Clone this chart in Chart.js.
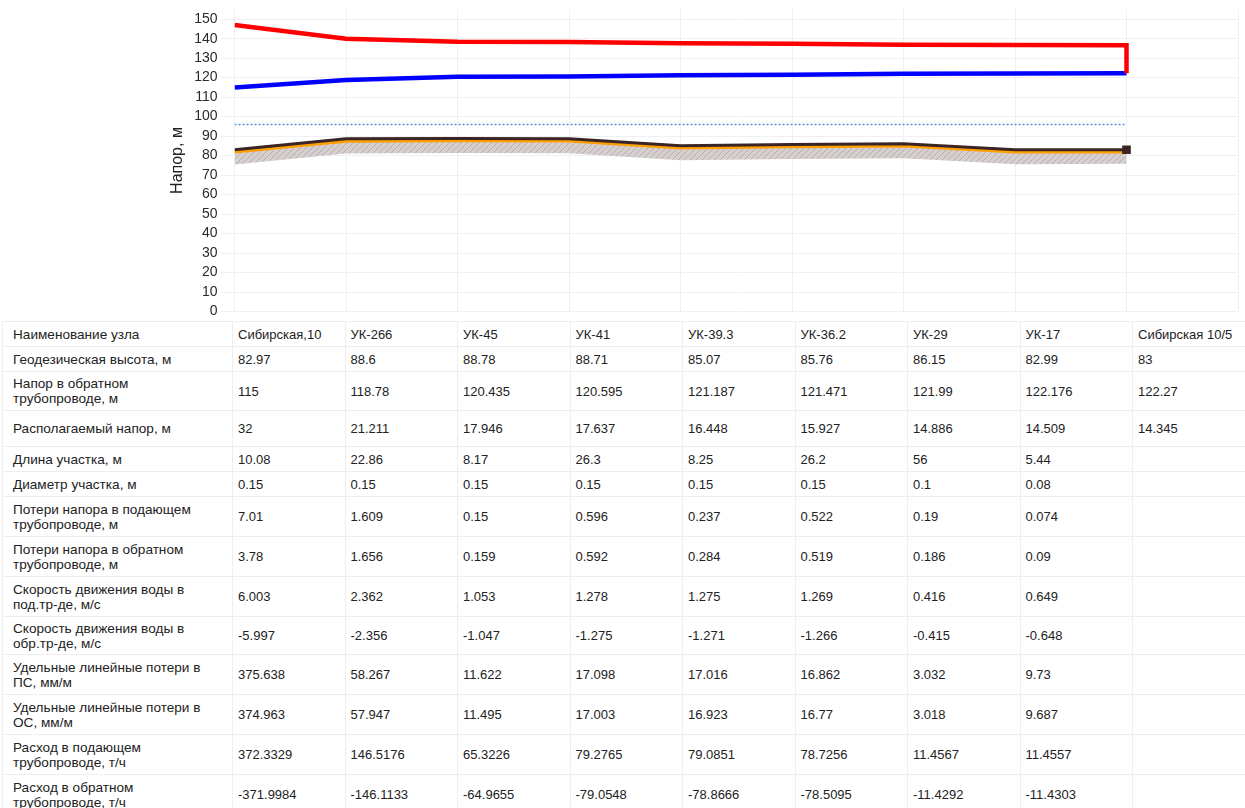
<!DOCTYPE html>
<html>
<head>
<meta charset="utf-8">
<script src="https://cdn.jsdelivr.net/npm/chart.js@4"></script>
<style>
  body { margin: 0; background: #fff; font-family: Arial, "Liberation Sans", sans-serif; overflow: hidden; }
  #chart-wrap { position: relative; width: 1245px; height: 325px; margin-top: -2px; }
  table { border-collapse: collapse; table-layout: fixed; width: 1243px; margin: -2px 0 0 2px; font-size: 13px; color: #222; position: relative; background: #fff; }
  td { border: 1px solid #eeeeee; padding: 0 5px; vertical-align: middle; white-space: nowrap; line-height: 15px; }
  td.lbl { padding-left: 10px; font-size: 13.6px; }
</style>
</head>
<body>
<div id="chart-wrap"><canvas id="piezo-graph"></canvas></div>
<table id="piezo-table"></table>

<script>
const nodes = ['Сибирская,10', 'УК-266', 'УК-45', 'УК-41', 'УК-39.3', 'УК-36.2', 'УК-29', 'УК-17', 'Сибирская 10/5'];
const geoHeight = [82.97, 88.6, 88.78, 88.71, 85.07, 85.76, 86.15, 82.99, 83];
const returnHead = [115, 118.78, 120.435, 120.595, 121.187, 121.471, 121.99, 122.176, 122.27];
const availHead = [32, 21.211, 17.946, 17.637, 16.448, 15.927, 14.886, 14.509, 14.345];
const supplyHead = [147, 139.991, 138.381, 138.232, 137.635, 137.398, 136.876, 136.685, 136.615];
const pipeTop = [81.8, 87.4, 87.6, 87.5, 83.9, 84.6, 85.0, 81.8, 81.9];
const pipeBottom = [75.5, 81.1, 81.3, 81.2, 77.6, 78.3, 78.7, 75.6, 75.8];
const staticHead = [96, 96, 96, 96, 96, 96, 96, 96, 96];

const segLength = [10.08, 22.86, 8.17, 26.3, 8.25, 26.2, 56, 5.44];
const segDiam = [0.15, 0.15, 0.15, 0.15, 0.15, 0.15, 0.1, 0.08];
const lossSupply = [7.01, 1.609, 0.15, 0.596, 0.237, 0.522, 0.19, 0.074];
const lossReturn = [3.78, 1.656, 0.159, 0.592, 0.284, 0.519, 0.186, 0.09];
const speedSupply = [6.003, 2.362, 1.053, 1.278, 1.275, 1.269, 0.416, 0.649];
const speedReturn = [-5.997, -2.356, -1.047, -1.275, -1.271, -1.266, -0.415, -0.648];
const specLossSupply = [375.638, 58.267, 11.622, 17.098, 17.016, 16.862, 3.032, 9.73];
const specLossReturn = [374.963, 57.947, 11.495, 17.003, 16.923, 16.77, 3.018, 9.687];
const flowSupply = [372.3329, 146.5176, 65.3226, 79.2765, 79.0851, 78.7256, 11.4567, 11.4557];
const flowReturn = [-371.9984, -146.1133, -64.9655, -79.0548, -78.8666, -78.5095, -11.4292, -11.4303];

const rowLabels = [
    'Наименование узла',
    'Геодезическая высота, м',
    'Напор в обратном\nтрубопроводе, м',
    'Располагаемый напор, м',
    'Длина участка, м',
    'Диаметр участка, м',
    'Потери напора в подающем\nтрубопроводе, м',
    'Потери напора в обратном\nтрубопроводе, м',
    'Скорость движения воды в\nпод.тр-де, м/с',
    'Скорость движения воды в\nобр.тр-де, м/с',
    'Удельные линейные потери в\nПС, мм/м',
    'Удельные линейные потери в\nОС, мм/м',
    'Расход в подающем\nтрубопроводе, т/ч',
    'Расход в обратном\nтрубопроводе, т/ч'
];
const rowValues = [nodes, geoHeight, returnHead, availHead, segLength, segDiam, lossSupply, lossReturn,
    speedSupply, speedReturn, specLossSupply, specLossReturn, flowSupply, flowReturn];
const rowHeights = [25, 25, 39, 36, 25, 25, 40, 40, 40, 38, 40, 40, 40, 40];

function pts(values) {
    return values.map((v, i) => ({ x: i, y: v }));
}

function hatchPattern() {
    const c = document.createElement('canvas');
    c.width = 6;
    c.height = 6;
    const g = c.getContext('2d');
    g.fillStyle = '#d6cfcf';
    g.fillRect(0, 0, 6, 6);
    g.strokeStyle = '#b8aeae';
    g.lineWidth = 1;
    g.beginPath();
    g.moveTo(0, 6); g.lineTo(6, 0);
    g.moveTo(-3, 3); g.lineTo(3, -3);
    g.moveTo(3, 9); g.lineTo(9, 3);
    g.stroke();
    return g.createPattern(c, 'repeat');
}

function renderTable() {
    const table = document.getElementById('piezo-table');
    let html = '<colgroup><col style="width:230px">';
    nodes.forEach(() => { html += '<col style="width:112.5px">'; });
    html += '</colgroup>';
    rowLabels.forEach((label, r) => {
        html += '<tr style="height:' + rowHeights[r] + 'px"><td class="lbl">' + label.replace('\n', '<br>') + '</td>';
        nodes.forEach((n, i) => {
            const v = rowValues[r][i];
            html += '<td>' + (v === undefined ? '' : v) + '</td>';
        });
        html += '</tr>';
    });
    table.innerHTML = html;
}

function renderPiezoGraph() {
    const ctx = document.getElementById('piezo-graph').getContext('2d');
    const last = nodes.length - 1;
    const redData = pts(supplyHead);
    redData.push({ x: last, y: returnHead[last] });

    new Chart(ctx, {
        type: 'line',
        data: {
            datasets: [
                {
                    data: redData,
                    borderColor: '#ff0000',
                    borderWidth: 4.5,
                    borderJoinStyle: 'miter',
                    pointRadius: 0
                },
                {
                    data: pts(returnHead),
                    borderColor: '#0000ff',
                    borderWidth: 4.5,
                    pointRadius: 0
                },
                {
                    data: pts(geoHeight),
                    borderColor: '#3a2424',
                    backgroundColor: '#3a2424',
                    borderWidth: 3,
                    pointStyle: 'rect',
                    pointRadius: geoHeight.map((v, i) => i === last ? 4 : 0)
                },
                {
                    data: pts(pipeTop),
                    borderColor: '#ffa000',
                    borderWidth: 3,
                    pointRadius: 0,
                    fill: 4,
                    backgroundColor: hatchPattern()
                },
                {
                    data: pts(pipeBottom),
                    borderWidth: 0,
                    borderColor: 'rgba(0,0,0,0)',
                    pointRadius: 0
                },
                {
                    data: pts(staticHead),
                    borderColor: '#5b8fd0',
                    borderWidth: 1.5,
                    borderDash: [2, 2],
                    pointRadius: 0
                }
            ]
        },
        options: {
            animation: false,
            maintainAspectRatio: false,
            responsive: true,
            layout: {
                padding: { left: 164, top: 6, bottom: 8, right: 0 }
            },
            scales: {
                x: {
                    type: 'linear',
                    min: 0,
                    max: 9,
                    ticks: { display: false, stepSize: 1 },
                    grid: { color: '#f0f0f0', drawTicks: false },
                    border: { display: false }
                },
                y: {
                    min: 0,
                    max: 155,
                    ticks: {
                        stepSize: 5,
                        padding: 3,
                        color: '#2a2a2a',
                        font: { family: 'Arial', size: 14 },
                        callback: v => (v % 10 === 0 ? v : '')
                    },
                    grid: { color: '#f0f0f0', tickLength: 14 },
                    border: { display: false },
                    title: {
                        display: true,
                        text: 'Напор, м',
                        color: '#222',
                        font: { family: 'Arial', size: 16 },
                        padding: { top: 4, bottom: 4 }
                    }
                }
            },
            plugins: {
                legend: { display: false },
                tooltip: { enabled: false }
            }
        }
    });
}

document.addEventListener('DOMContentLoaded', function () {
    renderTable();
    renderPiezoGraph();
});
</script>
</body>
</html>
